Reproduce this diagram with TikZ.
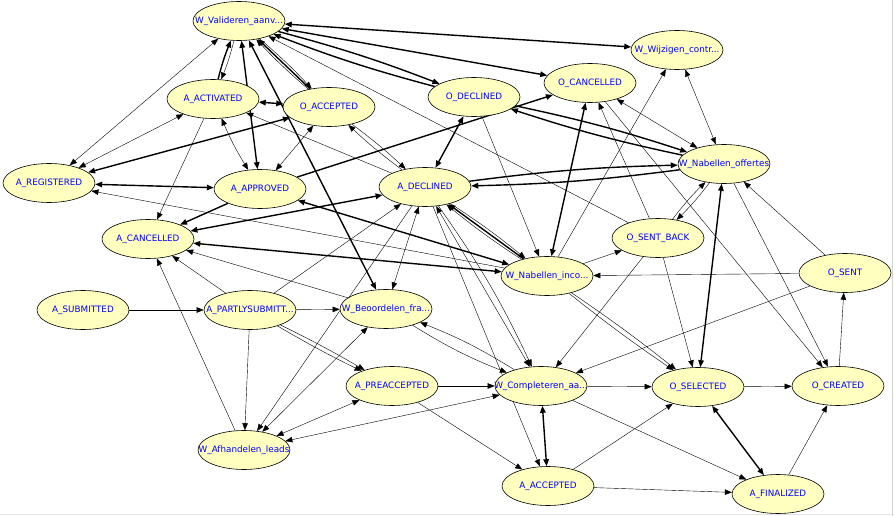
\documentclass[tikz,border=0pt]{standalone}
\usepackage{fontspec}
\setmainfont{DejaVu Sans}
\usetikzlibrary{shapes.geometric,arrows.meta}
\pgfdeclarelayer{bg}
\pgfsetlayers{bg,main}
\definecolor{actfill}{RGB}{255,255,192}
\newcommand{\lbl}[1]{\makebox[0pt][c]{#1}}

\begin{document}
\begin{tikzpicture}[x=1pt, y=-1pt, line width=0.6pt,
    >={Triangle[length=7pt,width=5.5pt]},
    act/.style={ellipse, draw, fill=actfill, minimum width=92pt, minimum height=39pt,
        inner sep=0pt, text=blue, font=\fontsize{8.8}{10}\selectfont},
    heavy/.style={line width=1.4pt}]
    \useasboundingbox (0,0) rectangle (895,516);
    % frame edges
    \draw[gray!35] (892,0) -- (892,516);
    \draw[gray!20] (0,514.5) -- (892,514.5);

    % Activities
    \node[act] (wval) at (239,21) {\lbl{W\_Valideren\_aanv...}};
    \node[act] (aact) at (213,99) {\lbl{A\_ACTIVATED}};
    \node[act] (oacc) at (329,107) {\lbl{O\_ACCEPTED}};
    \node[act] (odec) at (474,97) {\lbl{O\_DECLINED}};
    \node[act] (ocan) at (590,83) {\lbl{O\_CANCELLED}};
    \node[act] (wwij) at (677,50) {\lbl{W\_Wijzigen\_contr...}};
    \node[act] (areg) at (49,183) {\lbl{A\_REGISTERED}};
    \node[act] (aapp) at (260,189) {\lbl{A\_APPROVED}};
    \node[act] (adec) at (425,187) {\lbl{A\_DECLINED}};
    \node[act] (wnof) at (724,164) {\lbl{W\_Nabellen\_offertes}};
    \node[act] (acan) at (148,239) {\lbl{A\_CANCELLED}};
    \node[act] (osb) at (658,238) {\lbl{O\_SENT\_BACK}};
    \node[act] (wnin) at (547,276) {\lbl{W\_Nabellen\_inco...}};
    \node[act] (osent) at (845,273) {\lbl{O\_SENT}};
    \node[act] (asub) at (83,310) {\lbl{A\_SUBMITTED}};
    \node[act] (aps) at (250,310) {\lbl{A\_PARTLYSUBMITT...}};
    \node[act] (wbeo) at (386,309) {\lbl{W\_Beoordelen\_fra...}};
    \node[act] (apre) at (392,386) {\lbl{A\_PREACCEPTED}};
    \node[act] (wcom) at (541,386) {\lbl{W\_Completeren\_aa...}};
    \node[act] (osel) at (698,387) {\lbl{O\_SELECTED}};
    \node[act] (ocre) at (838,386) {\lbl{O\_CREATED}};
    \node[act] (wafh) at (244,450) {\lbl{W\_Afhandelen\_leads}};
    \node[act] (aacc) at (548,486) {\lbl{A\_ACCEPTED}};
    \node[act] (afin) at (778,494) {\lbl{A\_FINALIZED}};

    \begin{pgfonlayer}{bg}
    % Top
    \draw[<->, heavy] (wval) -- (wwij);
    \draw[<->, heavy] (wval) -- (ocan);
    \draw[->, heavy] (wval) to[bend left=3] (odec);
    \draw[->, heavy] (odec) to[bend left=3] (wval);
    \draw[<->] (wval) -- (areg);
    \draw[->, heavy] (aact) to[bend left=4] (wval);
    \draw[->] (wval) to[bend left=4] (aact);
    \draw[<->, heavy] (wval) -- (aapp);
    \draw[->] (wval) to[bend left=3] (oacc);
    \draw[->] (oacc) to[bend left=3] (wval);
    \draw[->, heavy] (oacc) -- (wval);
    \draw[<->, heavy] (wval) -- (wbeo);
    \draw[->] (osb) -- (wval);

    % Left
    \draw[<->] (areg) -- (aact);
    \draw[<->, heavy] (areg) -- (oacc);
    \draw[<->, heavy] (areg) -- (aapp);
    \draw[->] (wnin) -- (areg);
    \draw[<->, heavy] (aact) -- (oacc);
    \draw[->] (aact) -- (acan);
    \draw[<->] (aact) to[bend right=4] (aapp);
    \draw[->] (adec) -- (aact);
    \draw[<->] (oacc) -- (aapp);
    \draw[->] (oacc) to[bend left=3] (adec);
    \draw[->] (adec) to[bend left=3] (oacc);
    \draw[->, heavy] (aapp) -- (ocan);
    \draw[->, heavy] (aapp) -- (acan);
    \draw[<->, heavy] (aapp) -- (wnin);
    \draw[<->, heavy] (acan) -- (adec);
    \draw[<->, heavy] (acan) -- (wnin);

    % Middle
    \draw[<->, heavy] (odec) -- (adec);
    \draw[->, heavy] (odec) to[bend left=3] (wnof);
    \draw[->, heavy] (wnof) to[bend left=3] (odec);
    \draw[->] (odec) -- (wnin);
    \draw[->] (adec) to[bend left=3] (wnin);
    \draw[->] (wnin) to[bend left=3] (adec);
    \draw[->, heavy] (wnin) -- (adec);
    \draw[->, heavy] (wnof) to[bend left=3] (adec);
    \draw[->, heavy] (adec) to[bend left=3] (wnof);
    \draw[<->] (adec) -- (wbeo);
    \draw[->] (adec) -- (wafh);
    \draw[<->] (adec) -- (wcom);
    \draw[->] (adec) to[bend left=5] (wcom);
    \draw[->] (adec) -- (aacc);
    \draw[->] (aps) -- (adec);

    % Right
    \draw[<->, heavy] (ocan) -- (wnin);
    \draw[->] (osb) -- (ocan);
    \draw[<->] (ocan) -- (wnof);
    \draw[->] (ocan) -- (ocre);
    \draw[->] (wnin) -- (wwij);
    \draw[<->] (wwij) -- (wnof);
    \draw[->] (wnof) to[bend left=4] (osb);
    \draw[->] (osb) to[bend left=4] (wnof);
    \draw[<->, heavy] (wnof) -- (osel);
    \draw[->] (osent) -- (wnof);
    \draw[->] (wnof) -- (ocre);
    \draw[->] (osent) -- (wnin);
    \draw[->] (osent) -- (wcom);
    \draw[->] (ocre) -- (osent);
    \draw[->] (osel) -- (ocre);
    \draw[->] (wcom) -- (osel);
    \draw[->] (wnin) -- (osb);
    \draw[->] (osb) -- (osel);
    \draw[->] (osb) -- (wcom);
    \draw[->] (wnin) to[bend left=2] (osel);
    \draw[->] (wnin) to[bend right=2] (osel);

    % Bottom
    \draw[->] (asub) -- (aps);
    \draw[->] (aps) -- (wbeo);
    \draw[->] (aps) -- (wafh);
    \draw[->] (aps) -- (acan);
    \draw[->] (wafh) -- (acan);
    \draw[->] (wbeo) -- (acan);
    \draw[->] (aps) to[bend left=2] (apre);
    \draw[->] (aps) to[bend right=2] (apre);
    \draw[->] (wbeo) to[bend right=5] (wcom);
    \draw[->] (wcom) to[bend right=5] (wbeo);
    \draw[<->] (wbeo) -- (wafh);
    \draw[<->] (wafh) -- (apre);
    \draw[<->] (wcom) -- (wafh);
    \draw[->] (apre) -- (wcom);
    \draw[->] (apre) -- (aacc);
    \draw[<->, heavy] (wcom) -- (aacc);
    \draw[->] (aacc) -- (osel);
    \draw[->] (aacc) -- (afin);
    \draw[->] (wcom) -- (afin);
    \draw[<->, heavy] (osel) -- (afin);
    \draw[->] (afin) -- (ocre);
    \end{pgfonlayer}
\end{tikzpicture}
\end{document}
